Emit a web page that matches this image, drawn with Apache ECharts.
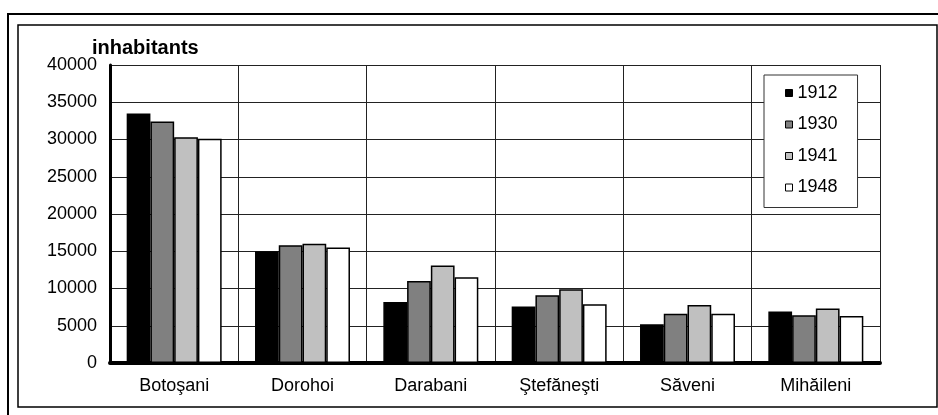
<!DOCTYPE html>
<html>
<head>
<meta charset="utf-8">
<script src="https://cdn.jsdelivr.net/npm/echarts@6/dist/echarts.min.js"></script>
<style>
html,body{margin:0;padding:0;background:#fff;}
#chart{width:938px;height:415px;}
</style>
</head>
<body>
<div id="chart"></div>
<script>
const categories = ['Botoşani', 'Dorohoi', 'Darabani', 'Ştefăneşti', 'Săveni', 'Mihăileni'];
const years = ['1912', '1930', '1941', '1948'];
const v1912 = [33500, 15000, 8200, 7600, 5200, 6900];
const v1930 = [32400, 15800, 11000, 9100, 6600, 6400];
const v1941 = [30300, 16000, 13100, 9900, 7800, 7300];
const v1948 = [30100, 15500, 11500, 7900, 6600, 6300];
const yTicks = [0, 5000, 10000, 15000, 20000, 25000, 30000, 35000, 40000];

const colors = ['#000000', '#808080', '#c0c0c0', '#ffffff'];
const values = [v1912, v1930, v1941, v1948];
const FONT = 'Liberation Sans';

const chart = echarts.init(document.getElementById('chart'));
chart.setOption({
  animation: false,
  backgroundColor: '#fff',
  textStyle: { fontFamily: FONT, color: '#000' },
  title: {
    text: 'inhabitants',
    left: 92,
    top: 38,
    padding: 0,
    textStyle: { fontFamily: FONT, fontSize: 20, fontWeight: 'bold', color: '#000' }
  },
  graphic: [
    { type: 'rect', shape: { x: 8, y: 14, width: 940, height: 420 }, style: { fill: 'none', stroke: '#000', lineWidth: 2 }, silent: true },
    { type: 'rect', shape: { x: 18, y: 25, width: 919, height: 382 }, style: { fill: 'none', stroke: '#000', lineWidth: 1.5 }, silent: true }
  ],
  legend: {
    data: years,
    orient: 'vertical',
    left: 764,
    top: 75,
    padding: [9, 20, 11, 21],
    itemGap: 13.5,
    itemWidth: 7,
    itemHeight: 7,
    icon: 'rect',
    backgroundColor: '#fff',
    borderColor: '#333',
    borderWidth: 1,
    itemStyle: { borderColor: '#000', borderWidth: 1 },
    textStyle: { fontFamily: FONT, fontSize: 18, color: '#000', lineHeight: 17 }
  },
  grid: { left: 110, top: 65, right: 58, bottom: 52, containLabel: false },
  xAxis: {
    type: 'category',
    data: categories,
    boundaryGap: true,
    axisLine: { show: true, lineStyle: { color: '#000', width: 4 } },
    axisTick: { show: false },
    splitLine: { show: true, interval: 0, lineStyle: { color: '#222', width: 1 } },
    axisLabel: { interval: 0, margin: 14, fontFamily: FONT, fontSize: 18, color: '#000' }
  },
  yAxis: {
    type: 'value',
    min: yTicks[0],
    max: yTicks[yTicks.length - 1],
    interval: yTicks[1] - yTicks[0],
    axisLine: { show: true, lineStyle: { color: '#000', width: 3 } },
    axisTick: { show: false },
    splitLine: { show: true, lineStyle: { color: '#222', width: 1 } },
    axisLabel: { margin: 13, fontFamily: FONT, fontSize: 18, color: '#000', formatter: (v) => String(v) }
  },
  series: years.map((y, i) => ({
    name: y,
    type: 'bar',
    data: values[i],
    barGap: '0%',
    barCategoryGap: '26%',
    itemStyle: { color: colors[i], borderColor: '#000', borderWidth: 1.5 }
  }))
});
</script>
</body>
</html>
